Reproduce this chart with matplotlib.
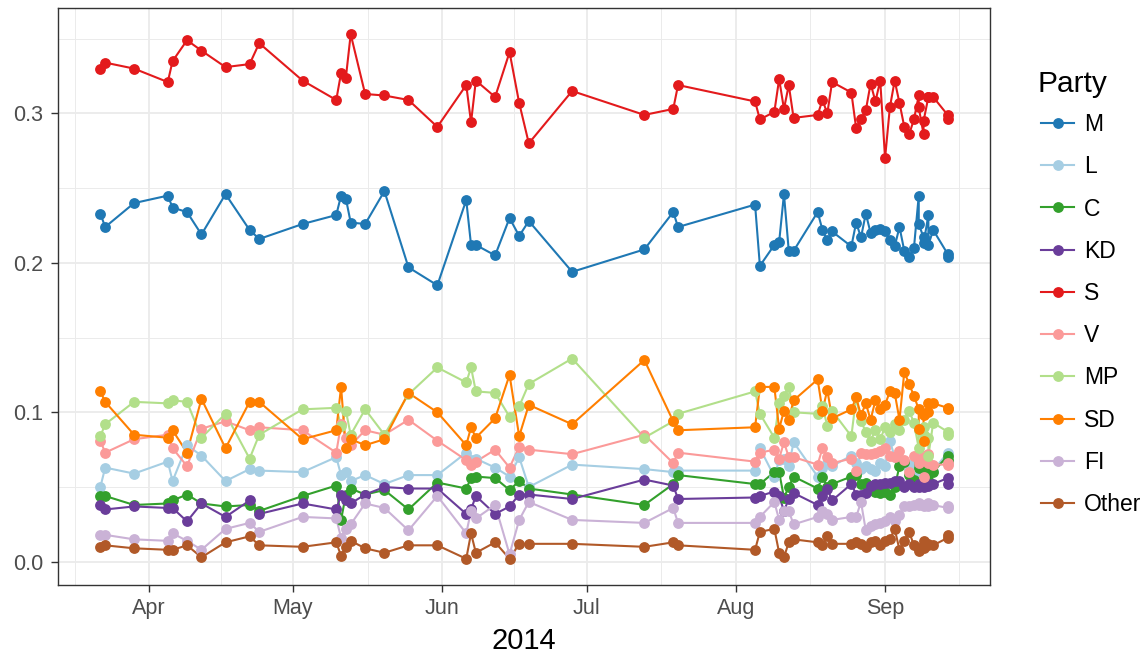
import matplotlib
matplotlib.use("Agg")
import matplotlib.pyplot as plt
import matplotlib.dates as mdates
from matplotlib.lines import Line2D
import numpy as np
import pandas as pd

plt.rcParams["font.family"] = ["Liberation Sans", "DejaVu Sans"]

# poll dates (spring/summer, then the dense Aug-Sep run)
poll_dates = [
    "2014-03-22", "2014-03-23", "2014-03-29", "2014-04-05", "2014-04-06",
    "2014-04-09", "2014-04-12", "2014-04-17", "2014-04-22", "2014-04-24",
    "2014-05-03", "2014-05-10", "2014-05-11", "2014-05-12", "2014-05-13",
    "2014-05-16", "2014-05-20", "2014-05-25", "2014-05-31", "2014-06-06",
    "2014-06-07", "2014-06-08", "2014-06-12", "2014-06-15", "2014-06-17",
    "2014-06-19", "2014-06-28", "2014-07-13", "2014-07-19", "2014-07-20",
    "2014-08-05", "2014-08-06", "2014-08-09", "2014-08-10", "2014-08-11",
    "2014-08-12", "2014-08-13", "2014-08-18", "2014-08-19", "2014-08-20",
    "2014-08-21", "2014-08-25", "2014-08-26", "2014-08-27", "2014-08-28",
    "2014-08-29", "2014-08-30", "2014-08-31", "2014-09-01", "2014-09-02",
    "2014-09-03", "2014-09-04", "2014-09-05", "2014-09-06", "2014-09-07",
    "2014-09-08", "2014-09-08", "2014-09-09", "2014-09-09", "2014-09-10",
    "2014-09-10", "2014-09-11", "2014-09-14", "2014-09-14",
]

M = [0.233, 0.224, 0.240, 0.245, 0.237, 0.234, 0.219, 0.246, 0.222, 0.216,
     0.226, 0.232, 0.245, 0.243, 0.227, 0.226, 0.248, 0.197, 0.185, 0.242,
     0.212, 0.212, 0.205, 0.230, 0.218, 0.228, 0.194, 0.209, 0.234, 0.224,
     0.239, 0.198, 0.212, 0.214, 0.246, 0.208, 0.208, 0.234, 0.222, 0.215,
     0.221, 0.211, 0.227, 0.217, 0.233, 0.220, 0.222, 0.223, 0.221, 0.215,
     0.211, 0.224, 0.208, 0.204, 0.210, 0.245, 0.226, 0.217, 0.213, 0.232,
     0.212, 0.222, 0.206, 0.204]
L = [0.050, 0.063, 0.059, 0.067, 0.054, 0.078, 0.071, 0.054, 0.062, 0.061,
     0.060, 0.070, 0.058, 0.060, 0.054, 0.058, 0.052, 0.058, 0.058, 0.073,
     0.068, 0.069, 0.063, 0.057, 0.070, 0.050, 0.065, 0.062, 0.060, 0.061,
     0.061, 0.076, 0.057, 0.068, 0.069, 0.064, 0.080, 0.057, 0.063, 0.066,
     0.064, 0.071, 0.066, 0.062, 0.064, 0.062, 0.061, 0.066, 0.064, 0.081,
     0.070, 0.069, 0.067, 0.062, 0.066, 0.070, 0.059, 0.065, 0.062, 0.059,
     0.066, 0.061, 0.073, 0.067]
C = [0.044, 0.044, 0.038, 0.039, 0.041, 0.045, 0.039, 0.037, 0.038, 0.034,
     0.044, 0.051, 0.028, 0.045, 0.049, 0.045, 0.048, 0.035, 0.053, 0.049,
     0.056, 0.057, 0.056, 0.048, 0.054, 0.049, 0.045, 0.038, 0.052, 0.058,
     0.052, 0.052, 0.060, 0.060, 0.043, 0.050, 0.057, 0.049, 0.057, 0.050,
     0.052, 0.057, 0.058, 0.052, 0.053, 0.050, 0.047, 0.046, 0.047, 0.045,
     0.050, 0.064, 0.067, 0.058, 0.055, 0.066, 0.063, 0.052, 0.065, 0.060,
     0.055, 0.060, 0.071, 0.068]
KD = [0.038, 0.035, 0.037, 0.036, 0.036, 0.027, 0.039, 0.030, 0.041, 0.032,
      0.039, 0.035, 0.045, 0.041, 0.039, 0.045, 0.050, 0.049, 0.049, 0.032,
      0.035, 0.044, 0.032, 0.037, 0.045, 0.045, 0.042, 0.055, 0.051, 0.042,
      0.043, 0.044, 0.047, 0.044, 0.034, 0.042, 0.046, 0.038, 0.044, 0.049,
      0.041, 0.052, 0.045, 0.045, 0.046, 0.051, 0.052, 0.052, 0.053, 0.053,
      0.054, 0.054, 0.050, 0.052, 0.050, 0.050, 0.052, 0.052, 0.050, 0.051,
      0.052, 0.052, 0.056, 0.052]
S = [0.330, 0.334, 0.330, 0.321, 0.335, 0.349, 0.342, 0.331, 0.333, 0.347,
     0.322, 0.309, 0.327, 0.324, 0.353, 0.313, 0.312, 0.309, 0.291, 0.319,
     0.294, 0.322, 0.311, 0.341, 0.307, 0.280, 0.315, 0.299, 0.303, 0.319,
     0.308, 0.296, 0.301, 0.323, 0.303, 0.319, 0.297, 0.299, 0.309, 0.300,
     0.321, 0.314, 0.290, 0.296, 0.302, 0.320, 0.308, 0.322, 0.270, 0.304,
     0.322, 0.307, 0.291, 0.286, 0.296, 0.312, 0.304, 0.286, 0.295, 0.311,
     0.311, 0.311, 0.299, 0.296]
V = [0.081, 0.073, 0.082, 0.085, 0.076, 0.064, 0.089, 0.094, 0.088, 0.090,
     0.088, 0.073, 0.092, 0.083, 0.078, 0.088, 0.085, 0.095, 0.081, 0.068,
     0.065, 0.067, 0.075, 0.063, 0.077, 0.075, 0.072, 0.085, 0.066, 0.073,
     0.067, 0.073, 0.075, 0.069, 0.080, 0.070, 0.070, 0.065, 0.076, 0.070,
     0.066, 0.069, 0.061, 0.073, 0.072, 0.072, 0.073, 0.074, 0.076, 0.071,
     0.070, 0.074, 0.068, 0.060, 0.071, 0.068, 0.066, 0.057, 0.071, 0.066,
     0.072, 0.065, 0.065, 0.066]
MP = [0.084, 0.092, 0.107, 0.106, 0.108, 0.107, 0.083, 0.099, 0.069, 0.085,
      0.102, 0.103, 0.091, 0.101, 0.085, 0.102, 0.085, 0.112, 0.130, 0.120,
      0.130, 0.114, 0.113, 0.097, 0.104, 0.119, 0.136, 0.083, 0.094, 0.099,
      0.114, 0.099, 0.083, 0.106, 0.111, 0.117, 0.100, 0.099, 0.104, 0.091,
      0.101, 0.084, 0.110, 0.094, 0.087, 0.081, 0.088, 0.082, 0.090, 0.087,
      0.092, 0.088, 0.095, 0.101, 0.093, 0.076, 0.088, 0.085, 0.090, 0.083,
      0.071, 0.093, 0.087, 0.085]
SD = [0.114, 0.107, 0.085, 0.083, 0.088, 0.073, 0.109, 0.076, 0.107, 0.107,
      0.082, 0.088, 0.117, 0.076, 0.082, 0.078, 0.082, 0.113, 0.100, 0.078,
      0.090, 0.083, 0.096, 0.125, 0.084, 0.105, 0.092, 0.135, 0.094, 0.088,
      0.090, 0.117, 0.117, 0.089, 0.101, 0.095, 0.108, 0.122, 0.101, 0.115,
      0.096, 0.102, 0.110, 0.098, 0.106, 0.095, 0.108, 0.102, 0.105, 0.114,
      0.113, 0.095, 0.127, 0.119, 0.111, 0.102, 0.089, 0.081, 0.098, 0.106,
      0.100, 0.106, 0.103, 0.102]
FI = [0.018, 0.018, 0.015, 0.014, 0.019, 0.014, 0.008, 0.022, 0.026, 0.020,
      0.030, 0.029, 0.016, 0.022, 0.025, 0.039, 0.036, 0.021, 0.044, 0.019,
      0.034, 0.029, 0.038, 0.005, 0.028, 0.040, 0.028, 0.026, 0.036, 0.026,
      0.026, 0.030, 0.040, 0.028, 0.034, 0.034, 0.025, 0.030, 0.034, 0.032,
      0.028, 0.030, 0.030, 0.040, 0.021, 0.024, 0.025, 0.026, 0.027, 0.030,
      0.027, 0.031, 0.037, 0.037, 0.038, 0.039, 0.038, 0.038, 0.037, 0.039,
      0.037, 0.038, 0.036, 0.037]
Other = [0.010, 0.011, 0.009, 0.008, 0.008, 0.011, 0.003, 0.013, 0.017, 0.011,
         0.010, 0.013, 0.004, 0.010, 0.014, 0.009, 0.006, 0.011, 0.011, 0.002,
         0.019, 0.006, 0.013, 0.002, 0.012, 0.012, 0.012, 0.010, 0.013, 0.011,
         0.008, 0.020, 0.022, 0.006, 0.003, 0.013, 0.015, 0.013, 0.011, 0.017,
         0.012, 0.012, 0.013, 0.012, 0.010, 0.013, 0.014, 0.011, 0.014, 0.015,
         0.022, 0.008, 0.014, 0.020, 0.011, 0.007, 0.009, 0.014, 0.009, 0.012,
         0.011, 0.011, 0.016, 0.018]

parties = ["M", "L", "C", "KD", "S", "V", "MP", "SD", "FI", "Other"]
series = [M, L, C, KD, S, V, MP, SD, FI, Other]
colors = ["#1F78B4", "#A6CEE3", "#33A02C", "#6A3D9A", "#E31A1C",
          "#FB9A99", "#B2DF8A", "#FF7F00", "#CAB2D6", "#B15928"]

dates = pd.to_datetime(poll_dates)

fig = plt.figure(figsize=(11.45, 6.55), dpi=100)
ax = fig.add_axes([58 / 1145, 1 - 585 / 655, 932 / 1145, 577 / 655])

# ggplot draws all lines first, then all points
for vals, col in zip(series, colors):
    ax.plot(dates, vals, color=col, linewidth=1.5, zorder=3)
for vals, col in zip(series, colors):
    ax.plot(dates, vals, linestyle="none", marker="o", markersize=7.8,
            color=col, markeredgewidth=0, zorder=4)

ax.margins(x=0.05, y=0.05)

# axes styling (theme_bw look)
major = pd.to_datetime(["2014-04-01", "2014-05-01", "2014-06-01",
                        "2014-07-01", "2014-08-01", "2014-09-01"])
major_num = mdates.date2num(major)
step = np.diff(major_num).mean()
minor_num = np.concatenate([[major_num[0] - step / 2],
                            (major_num[:-1] + major_num[1:]) / 2,
                            [major_num[-1] + step / 2]])
ax.set_xticks(major_num)
ax.set_xticklabels([d.strftime("%b") for d in major])
ax.set_xticks(minor_num, minor=True)
ax.set_yticks([0.0, 0.1, 0.2, 0.3])
ax.set_yticklabels(["0.0", "0.1", "0.2", "0.3"])
ax.set_yticks([0.05, 0.15, 0.25, 0.35], minor=True)

ax.grid(True, which="major", color="#EBEBEB", linewidth=1.3, zorder=0)
ax.grid(True, which="minor", color="#EBEBEB", linewidth=0.7, zorder=0)
ax.set_axisbelow(True)
for sp in ax.spines.values():
    sp.set_color("#333333")
    sp.set_linewidth(1.0)
ax.tick_params(which="major", length=4.7, width=1, color="#333333",
               labelcolor="#4D4D4D", labelsize=15.5)
ax.tick_params(axis="x", which="major", pad=4.5)
ax.tick_params(axis="y", which="major", pad=6)
ax.tick_params(which="minor", length=0)
ax.set_xlabel("2014", fontsize=21, color="black", labelpad=6)

# legend: title as its own text, keys below it
fig.text(1037 / 1145, 1 - 92 / 655, "Party", fontsize=21.5,
         ha="left", va="baseline")
handles = [Line2D([0], [0], color=c, linewidth=1.5, marker="o",
                  markersize=7.8, markeredgewidth=0) for c in colors]
fig.legend(handles, parties, loc="upper left",
           bbox_to_anchor=(1041 / 1145, 1 - 113 / 655), frameon=False,
           fontsize=16.5, labelspacing=0.84,
           handlelength=1.45, handletextpad=0.42, borderaxespad=0,
           borderpad=0)

fig.savefig("out.png", dpi=100)
